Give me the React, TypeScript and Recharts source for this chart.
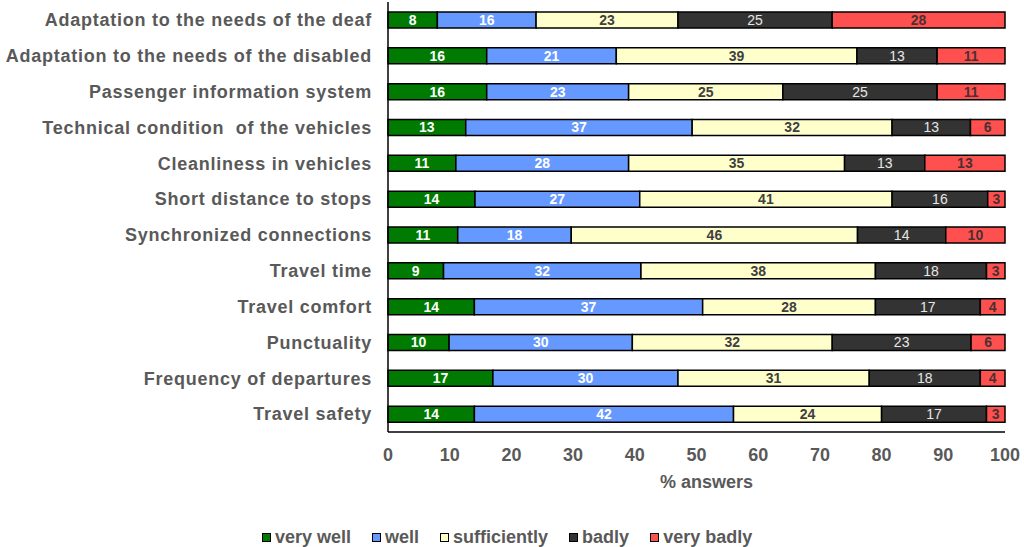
import React from "react";
import { BarChart, Bar, XAxis, YAxis, LabelList } from "recharts";

const categories = [
  "Adaptation to the needs of the deaf",
  "Adaptation to the needs of the disabled",
  "Passenger information system",
  "Technical condition\u00a0 of the vehicles",
  "Cleanliness in vehicles",
  "Short distance to stops",
  "Synchronized connections",
  "Travel time",
  "Travel comfort",
  "Punctuality",
  "Frequency of departures",
  "Travel safety",
];

const veryWell = [8, 16, 16, 12.6, 11, 14.1, 11.3, 9, 14, 9.9, 17, 14];
const well = [16, 21, 23, 36.7, 28, 26.7, 18.4, 32, 37, 29.7, 30, 42];
const sufficiently = [23, 39, 25, 32.4, 35, 40.9, 46.4, 38, 28, 32.4, 31, 24];
const badly = [25, 13, 25, 12.7, 13, 15.5, 14.3, 18, 17, 22.5, 18, 17];
const veryBadly = [28, 11, 11, 5.6, 13, 2.8, 9.6, 3, 4, 5.5, 4, 3];

const xTicks = [0, 10, 20, 30, 40, 50, 60, 70, 80, 90, 100];

const FONT = "'Liberation Sans', Arial, sans-serif";
const TEXT = "#595959";

const series = [
  { key: "veryWell", name: "very well", color: "#007A00", label: "#ffffff", weight: "bold" },
  { key: "well", name: "well", color: "#6699FF", label: "#ffffff", weight: "bold" },
  { key: "sufficiently", name: "sufficiently", color: "#FFFFCC", label: "#404040", weight: "bold" },
  { key: "badly", name: "badly", color: "#333333", label: "#e6e6e6", weight: "normal" },
  { key: "veryBadly", name: "very badly", color: "#FF5050", label: "#4a3030", weight: "bold" },
];

const data = categories.map((name, i) => ({
  name,
  veryWell: veryWell[i],
  well: well[i],
  sufficiently: sufficiently[i],
  badly: badly[i],
  veryBadly: veryBadly[i],
}));

export default function App() {
  return (
    <div style={{ position: "absolute", left: 0, top: 0, width: 1024, height: 547, fontFamily: FONT }}>
      <BarChart
        width={1024}
        height={547}
        data={data}
        layout="vertical"
        margin={{ top: 2, right: 19, left: 0, bottom: 55 }}
        barCategoryGap={0}
      >
        <XAxis
          type="number"
          domain={[0, 100]}
          ticks={xTicks}
          height={60}
          tickLine={false}
          tickSize={0}
          tickMargin={16}
          axisLine={{ stroke: "#000", strokeWidth: 1.5 }}
          tick={{ fill: TEXT, fontSize: 18, fontWeight: "bold", fontFamily: FONT }}
          label={{
            value: "% answers",
            position: "insideBottom",
            offset: 4,
            dx: 10,
            style: { fill: TEXT, fontSize: 18, fontWeight: "bold", fontFamily: FONT },
          }}
        />
        <YAxis
          type="category"
          dataKey="name"
          width={388}
          tickLine={false}
          tickSize={0}
          tickMargin={16}
          interval={0}
          axisLine={{ stroke: "#000", strokeWidth: 1.5 }}
          tick={{ fill: TEXT, fontSize: 18, fontWeight: "bold", fontFamily: FONT, letterSpacing: 0.75 }}
        />
        {series.map((s) => (
          <Bar
            key={s.key}
            dataKey={s.key}
            name={s.name}
            stackId="a"
            fill={s.color}
            stroke="#000"
            strokeWidth={1.5}
            barSize={16}
            isAnimationActive={false}
          >
            <LabelList
              dataKey={s.key}
              position="center"
              fill={s.label}
              fontSize={14}
              fontWeight={s.weight}
              fontFamily={FONT}
              formatter={(v: any) => Math.round(Number(v))}
            />
          </Bar>
        ))}
      </BarChart>
      <div
        style={{
          position: "absolute",
          left: 262,
          top: 527,
          display: "flex",
          gap: 21,
          fontSize: 18,
          fontWeight: "bold",
          color: TEXT,
          whiteSpace: "nowrap",
        }}
      >
        {series.map((s) => (
          <div key={s.key} style={{ display: "flex", alignItems: "center", gap: 4 }}>
            <div
              style={{
                width: 7,
                height: 7,
                background: s.color,
                border: "1.5px solid #000",
              }}
            />
            <span>{s.name}</span>
          </div>
        ))}
      </div>
    </div>
  );
}
